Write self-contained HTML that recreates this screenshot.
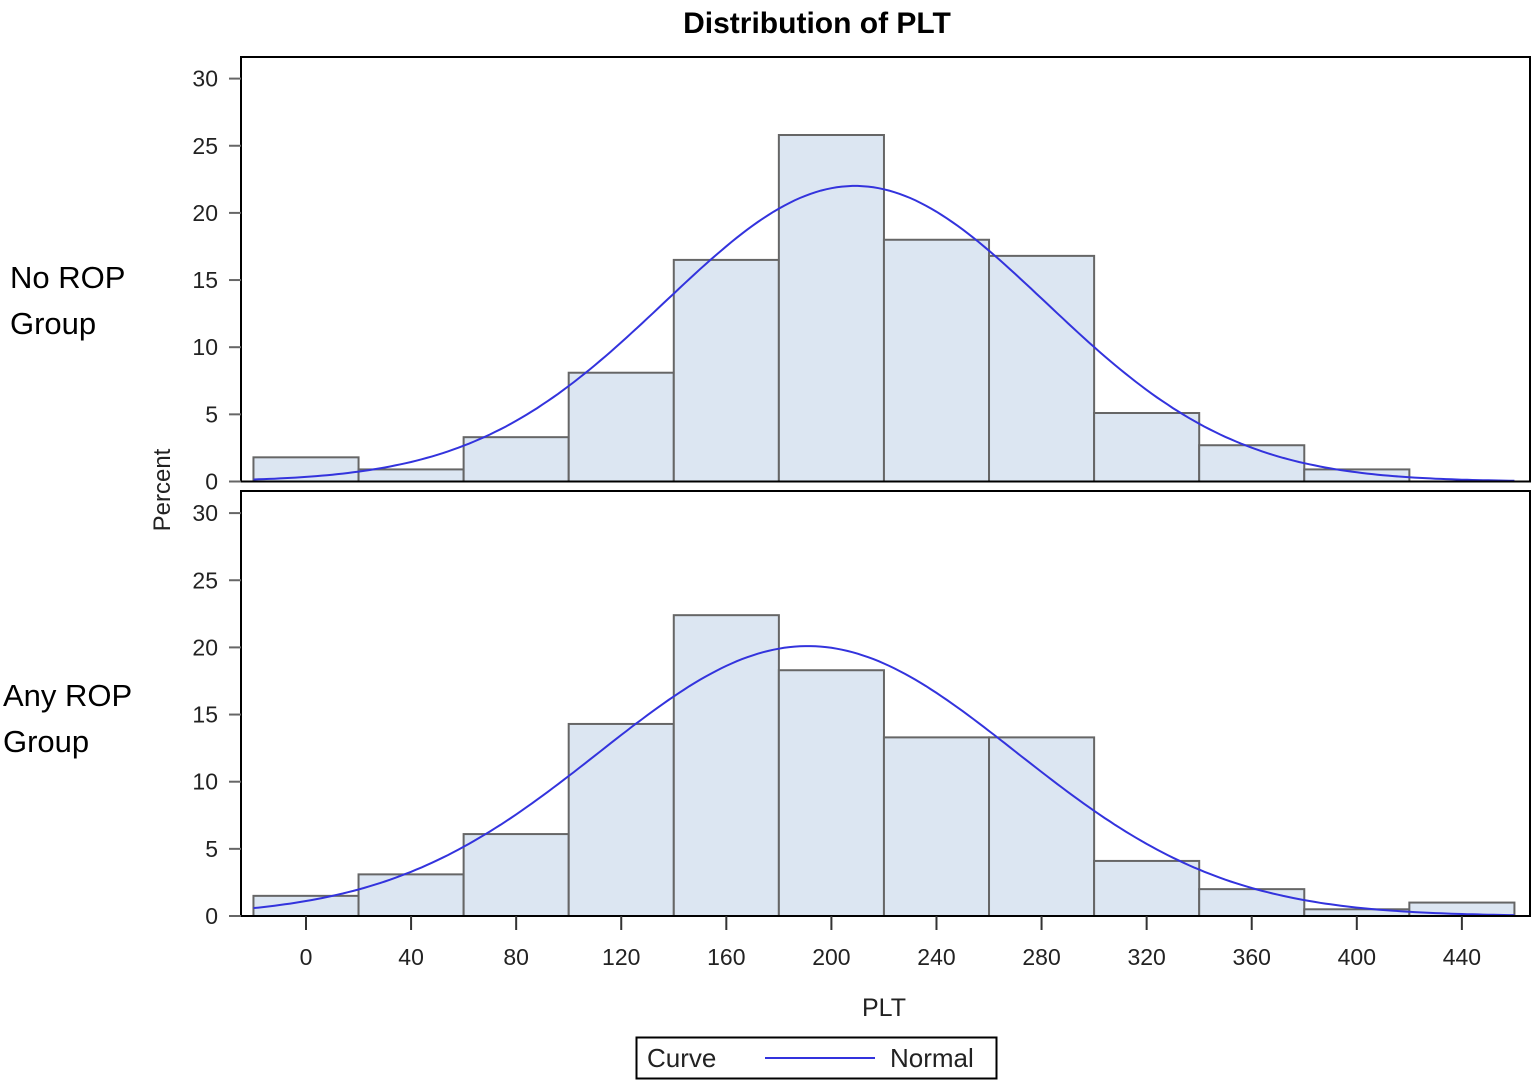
<!DOCTYPE html><html><head><style>body{margin:0;background:#fff}svg{display:block}text{font-family:"Liberation Sans",sans-serif}</style></head><body>
<svg id="s" width="1540" height="1087" xmlns="http://www.w3.org/2000/svg">
<text x="817" y="33" font-size="30" font-weight="bold" text-anchor="middle">Distribution of PLT</text>
<text x="10" y="288" font-size="31">No ROP</text><text x="10" y="334" font-size="31">Group</text>
<text x="3" y="706" font-size="31">Any ROP</text><text x="3" y="752" font-size="31">Group</text>
<text transform="translate(170,490) rotate(-90)" font-size="24" text-anchor="middle" fill="#222">Percent</text>
<text x="884" y="1016" font-size="25" text-anchor="middle" fill="#222">PLT</text>
<rect x="636.5" y="1037.5" width="360" height="41" fill="none" stroke="#000" stroke-width="2"/>
<text x="647" y="1067" font-size="26" fill="#222">Curve</text>
<line x1="765" y1="1058" x2="875" y2="1058" stroke="#3333dd" stroke-width="2"/>
<text x="890" y="1067" font-size="26" fill="#222">Normal</text>
<g id="g"></g>
</svg>
<script>
var g=document.getElementById('g'),h='';
function X(v){return 306+v*2.627;}
function panel(top0,bot,vals,mu,sd){var ys=13.43;
 h+='<rect x="241" y="'+top0+'" width="1289" height="'+(bot-top0)+'" fill="none" stroke="#000" stroke-width="2"/>';
 for(var i=0;i<vals.length;i++){if(vals[i]<=0)continue;var x0=X(-20+40*i),y=bot-vals[i]*ys;
  h+='<rect x="'+x0+'" y="'+y+'" width="105.1" height="'+(vals[i]*ys)+'" fill="#dce6f2" stroke="#666" stroke-width="2"/>';}
 for(var t=0;t<=30;t+=5){var y=bot-t*ys;h+='<line x1="229" x2="241" y1="'+y+'" y2="'+y+'" stroke="#666" stroke-width="2"/><text x="218" y="'+(y+8)+'" font-size="23" text-anchor="end" fill="#222">'+t+'</text>';}
 var p='';for(var v=-20;v<=460;v+=2){var f=4000/(sd*Math.sqrt(2*Math.PI))*Math.exp(-0.5*Math.pow((v-mu)/sd,2));p+=(v==-20?'M':'L')+X(v).toFixed(1)+','+(bot-f*ys).toFixed(1);}
 h+='<path d="'+p+'" fill="none" stroke="#3333dd" stroke-width="2"/>';
 h+='<line x1="241" x2="1530" y1="'+bot+'" y2="'+bot+'" stroke="#000" stroke-width="2"/>';}
panel(57,481.5,[1.8,0.9,3.3,8.1,16.5,25.8,18,16.8,5.1,2.7,0.9,0],209,72.5);
panel(491,916,[1.5,3.1,6.1,14.3,22.4,18.3,13.3,13.3,4.1,2.0,0.5,1.0],191,79.4);
for(var t=0;t<=440;t+=40){var x=X(t);h+='<line x1="'+x+'" x2="'+x+'" y1="916" y2="930" stroke="#333" stroke-width="2"/><text x="'+x+'" y="965" font-size="23" text-anchor="middle" fill="#222">'+t+'</text>';}
g.innerHTML=h;
</script></body></html>
